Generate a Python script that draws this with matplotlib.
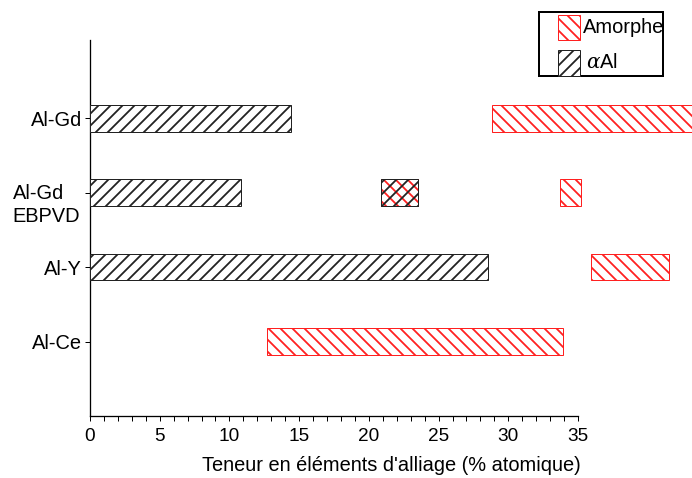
import matplotlib.pyplot as plt
from matplotlib.patches import Rectangle

# =========================
# DATA
# =========================
categories = ["Al-Gd", "Al-Gd\nEBPVD", "Al-Y", "Al-Ce"]
positions = [4, 3, 2, 1]

# (category index, start, end) in % atomique
alpha_ranges = [(0, 0.0, 14.4), (1, 0.0, 10.8), (1, 20.9, 23.55), (2, 0.0, 28.55)]
amorph_ranges = [(0, 28.8, 45.0), (1, 20.9, 23.55), (1, 33.7, 35.2),
                 (2, 35.9, 41.5), (3, 12.7, 33.9)]

xticks = [0, 5, 10, 15, 20, 25, 30, 35]
xlabel = "Teneur en éléments d'alliage (% atomique)"
legend_labels = ["Amorphe", r"$\alpha$Al"]

# =========================
# STYLE
# =========================
plt.rcParams['font.family'] = ['Liberation Sans', 'DejaVu Sans']
plt.rcParams['mathtext.fontset'] = 'custom'
plt.rcParams['mathtext.it'] = 'DejaVu Serif:italic'
plt.rcParams['hatch.linewidth'] = 1.8

W, H, DPI = 692, 478, 72
fig = plt.figure(figsize=(W / DPI, H / DPI), dpi=DPI)
ax = fig.add_axes([90 / W, (H - 416) / H, (W - 90) / W, (416 - 40) / H])

px_per_unit = (578 - 90) / 35
ax.set_xlim(0, (W - 90) / px_per_unit)
ax.set_ylim(0, 5.05)

bar_h = 0.36
amor_color = "#ff2020"
alpha_edge = "#222222"

for i, a, b in amorph_ranges:
    ax.barh(positions[i], b - a, left=a, height=bar_h, facecolor="white",
            edgecolor=amor_color, hatch="\\\\", linewidth=1.0, clip_on=False)

for i, a, b in alpha_ranges:
    fc = "none" if a > 0 else "white"
    ax.barh(positions[i], b - a, left=a, height=bar_h, facecolor=fc,
            edgecolor=alpha_edge, hatch="//", linewidth=1.0, clip_on=False, zorder=3)

# =========================
# AXES
# =========================
for s in ["top", "right"]:
    ax.spines[s].set_visible(False)
ax.spines["bottom"].set_bounds(0, 35)
ax.spines["left"].set_linewidth(1.3)
ax.spines["bottom"].set_linewidth(1.3)

ax.set_xticks(xticks)
ax.set_xticks(range(0, 36), minor=True)
ax.tick_params(axis="x", which="both", direction="out", length=5, width=1,
               labelsize=19, pad=7)
ax.set_yticks(positions)
ax.set_yticklabels([c if "\n" not in c else "" for c in categories], fontsize=20)
ax.tick_params(axis="y", direction="out", length=5, width=1, pad=3)
for c, p in zip(categories, positions):
    if "\n" in c:
        ax.annotate(c, xy=(0, p), xycoords=ax.get_yaxis_transform(),
                    xytext=(-10, -12), textcoords="offset points",
                    ha="right", va="center", multialignment="left",
                    fontsize=20, linespacing=1.25)
ax.set_xlabel(xlabel, fontsize=20, labelpad=11)

# =========================
# LEGEND (drawn in pixel coords)
# =========================
def fx(px):
    return px / W

def fy(py):
    return 1 - py / H

fig.patches.append(Rectangle((fx(539), fy(76)), fx(663) - fx(539), fy(12) - fy(76),
                             transform=fig.transFigure, facecolor="white",
                             edgecolor="black", linewidth=2, zorder=5))
leg_items = [(amor_color, "\\\\", 15, 40, 583), (alpha_edge, "//", 50, 76, 586)]
for (col, hat, y0, y1, tx), lab in zip(leg_items, legend_labels):
    fig.patches.append(Rectangle((fx(558), fy(y1)), fx(580) - fx(558), fy(y0) - fy(y1),
                                 transform=fig.transFigure, facecolor="white",
                                 edgecolor=col, hatch=hat, linewidth=1, zorder=6))
    fig.text(fx(tx), fy((y0 + y1) / 2), lab, fontsize=20, va="center", ha="left", zorder=7)

fig.savefig("out.png", dpi=DPI)
